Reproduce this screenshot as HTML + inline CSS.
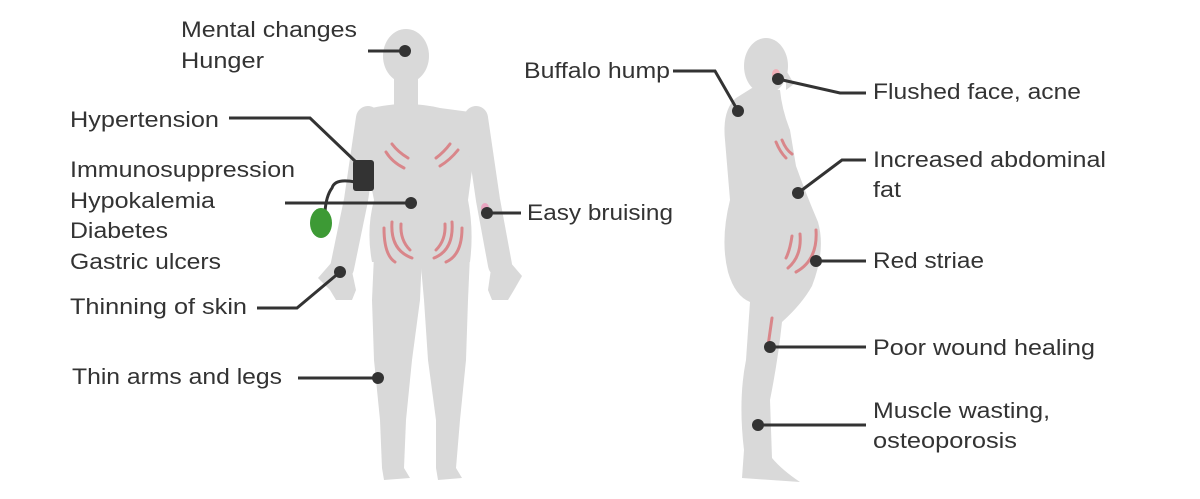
<!DOCTYPE html>
<html><head><meta charset="utf-8"><style>
html,body{margin:0;padding:0;background:#fff;}
svg{display:block;}
text{font-family:"Liberation Sans",sans-serif;font-size:22px;fill:#333;}
</style></head><body>
<svg width="1200" height="499" viewBox="0 0 1200 499" xmlns="http://www.w3.org/2000/svg">
<g fill="#d9d9d9" stroke="none">
  <ellipse cx="406" cy="56" rx="23" ry="27"/>
  <rect x="394" y="75" width="24" height="35"/>
  <path d="M372,108 Q406,100 440,108 L470,112 Q488,118 486,140 L472,170 L468,200 Q474,230 470,262 L372,262 Q366,230 374,200 L368,170 L356,140 Q354,118 372,108Z"/>
  <path d="M368,118 L356,200 L342,268" stroke="#d9d9d9" stroke-width="24" stroke-linecap="round" fill="none"/>
  <path d="M476,118 L488,200 L500,265" stroke="#d9d9d9" stroke-width="24" stroke-linecap="round" fill="none"/>
  <path d="M332,262 L350,262 L356,290 L352,300 L336,300 L330,290 L318,278 Z"/>
  <path d="M492,262 L510,262 L522,276 L514,290 L508,300 L492,300 L488,290 Z"/>
  <path d="M374,255 L422,255 L420,300 L412,360 L406,420 L404,468 L410,478 L384,480 L382,468 L380,420 L374,360 L372,300Z"/>
  <path d="M420,255 L470,255 L468,300 L466,360 L460,420 L456,468 L462,478 L438,480 L436,468 L436,420 L428,360 L424,300Z"/>
  <ellipse cx="766" cy="66" rx="22" ry="28"/>
  <path d="M786,70 L794,84 L786,90Z"/>
  <path d="M752,88 L736,98 Q722,110 725,140 L730,200 Q720,240 728,272 Q735,296 750,302 L746,360 Q738,400 744,450 L742,478 L800,482 Q782,470 772,458 L770,400 Q778,360 782,322 Q802,304 812,286 Q826,250 818,222 Q806,194 796,166 L790,130 Q782,110 780,90Z"/>
</g>
<g stroke="#d9868a" stroke-width="3" fill="none" stroke-linecap="round">
  <path d="M392,144 Q398,152 408,158"/><path d="M386,152 Q392,162 404,168"/>
  <path d="M436,158 Q444,152 450,144"/><path d="M440,166 Q450,160 458,150"/>
  <path d="M392,222 Q390,250 412,258"/><path d="M384,228 Q384,255 395,262"/>
  <path d="M401,224 Q400,240 410,250"/>
  <path d="M452,222 Q454,250 434,258"/><path d="M462,228 Q462,255 446,262"/>
  <path d="M445,224 Q446,240 436,250"/>
  <path d="M776,142 Q780,152 786,158"/><path d="M782,140 Q786,150 792,154"/>
  <path d="M792,236 Q790,250 786,258"/><path d="M800,234 Q802,256 788,268"/><path d="M816,230 Q818,260 796,272"/>
  <path d="M772,318 L768,346"/>
</g>
<ellipse cx="485" cy="208" rx="4" ry="5" fill="#e8a5c0"/>
<ellipse cx="776" cy="74" rx="4" ry="5" fill="#f0b0b8"/>
<g stroke="#333" stroke-width="3" fill="none">
  <path d="M368,51 L405,51"/>
  <path d="M229,118 L310,118 L356,162"/>
  <path d="M285,203 L411,203"/>
  <path d="M257,308 L297,308 L340,272"/>
  <path d="M298,378 L378,378"/>
  <path d="M487,213 L521,213"/>
  <path d="M355,182 Q335,178 332,188 Q326,196 325,212"/>
  <path d="M673,71 L715,71 L738,111"/>
  <path d="M778,79 L840,93 L866,93"/>
  <path d="M798,193 L842,160 L866,160"/>
  <path d="M816,261 L866,261"/>
  <path d="M770,347 L866,347"/>
  <path d="M758,425 L866,425"/>
</g>
<rect x="353" y="160" width="21" height="31" rx="3" fill="#333"/>
<ellipse cx="321" cy="223" rx="11" ry="15" fill="#3d9a35"/>
<g fill="#333">
  <circle cx="405" cy="51" r="6"/><circle cx="411" cy="203" r="6"/>
  <circle cx="340" cy="272" r="6"/><circle cx="378" cy="378" r="6"/>
  <circle cx="487" cy="213" r="6"/>
  <circle cx="738" cy="111" r="6"/><circle cx="778" cy="79" r="6"/>
  <circle cx="798" cy="193" r="6"/><circle cx="816" cy="261" r="6"/>
  <circle cx="770" cy="347" r="6"/><circle cx="758" cy="425" r="6"/>
</g>
<g lengthAdjust="spacingAndGlyphs">
<text x="181" y="37" textLength="176" lengthAdjust="spacingAndGlyphs">Mental changes</text>
<text x="181" y="68" textLength="83" lengthAdjust="spacingAndGlyphs">Hunger</text>
<text x="70" y="127" textLength="149" lengthAdjust="spacingAndGlyphs">Hypertension</text>
<text x="70" y="177" textLength="225" lengthAdjust="spacingAndGlyphs">Immunosuppression</text>
<text x="70" y="208" textLength="145" lengthAdjust="spacingAndGlyphs">Hypokalemia</text>
<text x="70" y="238" textLength="98" lengthAdjust="spacingAndGlyphs">Diabetes</text>
<text x="70" y="269" textLength="151" lengthAdjust="spacingAndGlyphs">Gastric ulcers</text>
<text x="70" y="314" textLength="177" lengthAdjust="spacingAndGlyphs">Thinning of skin</text>
<text x="72" y="384" textLength="210" lengthAdjust="spacingAndGlyphs">Thin arms and legs</text>
<text x="527" y="220" textLength="146" lengthAdjust="spacingAndGlyphs">Easy bruising</text>
<text x="524" y="78" textLength="146" lengthAdjust="spacingAndGlyphs">Buffalo hump</text>
<text x="873" y="99" textLength="208" lengthAdjust="spacingAndGlyphs">Flushed face, acne</text>
<text x="873" y="167" textLength="233" lengthAdjust="spacingAndGlyphs">Increased abdominal</text>
<text x="873" y="197" textLength="28" lengthAdjust="spacingAndGlyphs">fat</text>
<text x="873" y="268" textLength="111" lengthAdjust="spacingAndGlyphs">Red striae</text>
<text x="873" y="355" textLength="222" lengthAdjust="spacingAndGlyphs">Poor wound healing</text>
<text x="873" y="418" textLength="177" lengthAdjust="spacingAndGlyphs">Muscle wasting,</text>
<text x="873" y="448" textLength="144" lengthAdjust="spacingAndGlyphs">osteoporosis</text>
</g>
</svg>
</body></html>
